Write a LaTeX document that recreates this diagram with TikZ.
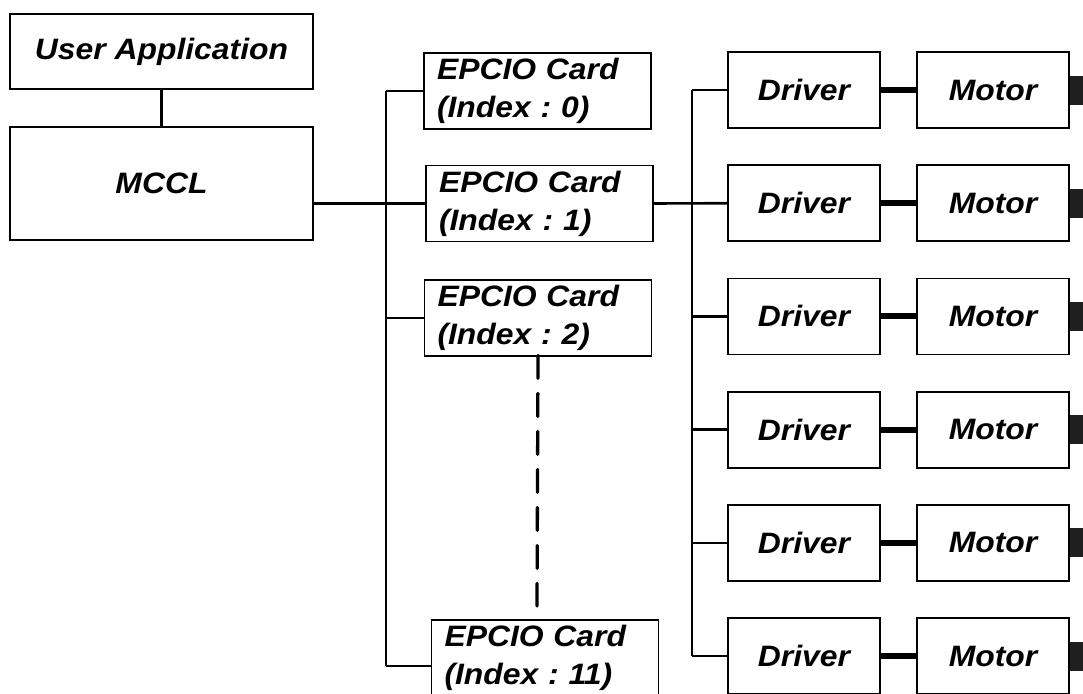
\documentclass[tikz,border=0pt]{standalone}
\usepackage{fontspec}
\setmainfont[FakeStretch=1.08]{Liberation Sans}
\begin{document}
\frenchspacing
\begin{tikzpicture}[x=1pt,y=-1pt,
  every node/.style={font=\fontsize{29.5}{38}\selectfont\bfseries\itshape},
  box/.style={draw, line width=1.8pt, inner sep=0pt, align=center},
  cardbox/.style={draw, line width=1.8pt, minimum width=227pt, minimum height=76pt,
    inner xsep=13pt, inner ysep=0pt, text width=201pt, align=left},
  unitbox/.style={box, minimum width=152pt, minimum height=76pt},
  link/.style={line width=2.6pt},
  heavy/.style={line width=6pt},
  shaft/.style={fill=black!88, draw=none, minimum width=24pt, minimum height=29pt, inner sep=0pt},
  dots/.style={line width=3.3pt, line cap=round, dash pattern=on 23pt off 15pt}]
\useasboundingbox (0,0) rectangle (1083,693);
\clip (0,0) rectangle (1083,693);
% left column
\node[box, minimum width=303pt, minimum height=75pt] (ua) at (161.5,51.5) {User Application};
\node[box, minimum width=303pt, minimum height=113pt] (mccl) at (161.5,183.5) {MCCL};
% cards
\node[cardbox] (c0) at (537.5,91) {EPCIO Card\\(Index : 0)};
\node[cardbox] (c1) at (539.5,203.5) {EPCIO Card\\(Index : 1)};
\node[cardbox] (c2) at (538,318) {EPCIO Card\\(Index : 2)};
\node[cardbox] (c11) at (545,658) {EPCIO Card\\(Index : 11)};
% trunks
\coordinate (t1top) at (386,91);
\coordinate (t1bot) at (386,666);
\coordinate (t2top) at (692,90);
\coordinate (t2bot) at (692,656);
\coordinate (dashend) at (537,606);
% drivers and motors
\foreach \i/\y in {1/90,2/203.2,3/316.4,4/429.6,5/542.8,6/656}{
  \node[unitbox] (d\i) at (804,\y) {Driver};
  \node[unitbox] (m\i) at (993,\y) {Motor};
  \node[shaft, anchor=west] (s\i) at (m\i.east) {};
  \draw[heavy] (d\i.west -| d\i.east) -- (m\i.west);
}
% connectors
\draw[link] (ua.south) -- (mccl.north);
\draw[link] (mccl.east |- c1.west) -- (c1.west);
\draw[link] (t1top) -- (c0.west |- t1top);
\draw[link] (t1top) -- (t1bot);
\draw[link] (t1bot) -- (c11.west |- t1bot);
\draw[link] (c2.west -| t1top) -- (c2.west);
\draw[link] (c1.east) -- (d2.west);
\draw[link] (t2top) -- (t2bot);
\foreach \i in {1,3,4,5,6}{
  \draw[link] (d\i.west -| t2top) -- (d\i.west);
}
\draw[dots] ([yshift=1.5pt]c2.south) -- (dashend);
\end{tikzpicture}
\end{document}
